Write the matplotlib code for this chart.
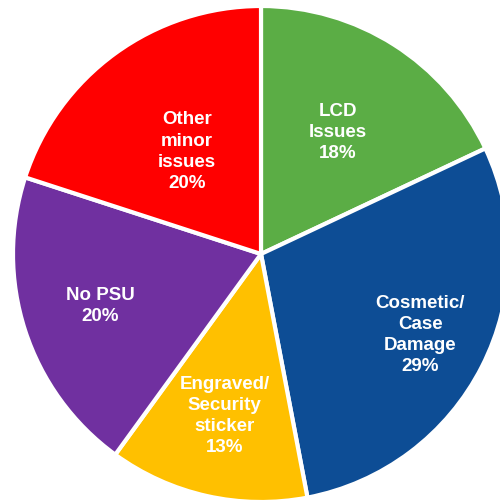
import numpy as np
import matplotlib
matplotlib.use("Agg")
import matplotlib.pyplot as plt

# Данные
labels = ["LCD\nIssues", "Cosmetic/\nCase\nDamage", "Engraved/\nSecurity\nsticker",
          "No PSU", "Other\nminor\nissues"]
values = [18, 29, 13, 20, 20]
colors = ["#5BAD45", "#0D4D95", "#FFC000", "#7030A0", "#FF0000"]
label_r = [0.58, 0.72, 0.67, 0.68, 0.51]

W, H = 500, 503
fig = plt.figure(figsize=(W / 100, H / 100), dpi=100)
cx, cy, R = 261, 503 - 254, 248
ax = fig.add_axes([(cx - R) / W, (cy - R) / H, 2 * R / W, 2 * R / H])

wedges, _ = ax.pie(values, colors=colors, startangle=90, counterclock=False,
                   wedgeprops=dict(edgecolor="white", linewidth=3))

for w, lab, v, r in zip(wedges, labels, values, label_r):
    ang = np.deg2rad((w.theta1 + w.theta2) / 2)
    ax.text(r * np.cos(ang), r * np.sin(ang), f"{lab}\n{v}%",
            ha="center", va="center", color="white", fontsize=13.5,
            fontweight="bold", family="Liberation Sans", linespacing=1.32)

ax.set_xlim(-1, 1)
ax.set_ylim(-1, 1)
ax.set_aspect("equal")
ax.axis("off")

fig.savefig("out.png", dpi=100)
